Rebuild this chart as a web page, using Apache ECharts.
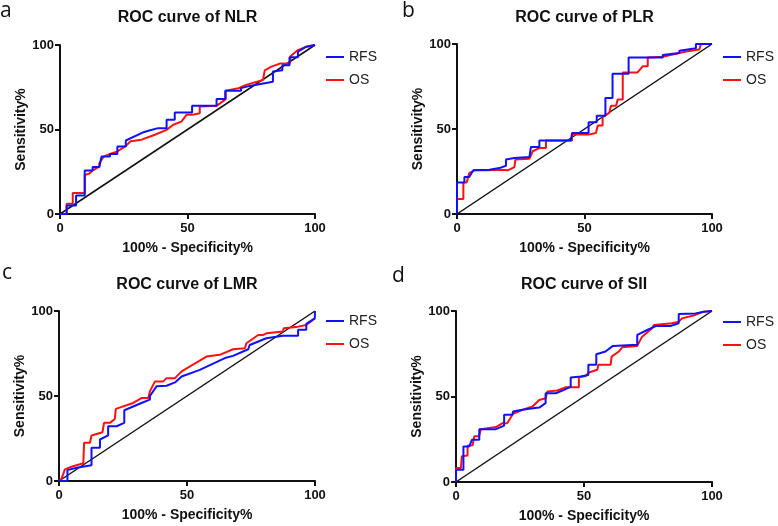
<!DOCTYPE html>
<html>
<head>
<meta charset="utf-8">
<script src="https://cdn.jsdelivr.net/npm/echarts@6/dist/echarts.min.js"></script>
<style>html,body{margin:0;padding:0;background:#fff;}#c{width:778px;height:526px;}</style>
</head>
<body>
<div id="c"></div>
<script>
// ---- data ----
const panelLetters = ['a', 'b', 'c', 'd'];
const panelTitles = ['ROC curve of NLR', 'ROC curve of PLR', 'ROC curve of LMR', 'ROC curve of SII'];
const seriesNames = ['RFS', 'OS'];
const xTickValues = [0, 50, 100];
const yTickValues = [0, 50, 100];
const reference = [[0, 0], [100, 100]];

const rfsNLR = [[0,0],[2.6,0],[2.6,5],[6.3,5],[6.3,11],[9.7,11],[9.7,25.8],[12.8,25.8],[12.8,27.8],[15.4,27.8],[16.3,34],[19.6,34],[19.6,35.5],[22.5,35.5],[22.5,40],[25.8,40],[25.8,43.5],[32.4,48.2],[35,49.4],[38.5,50.8],[41.8,50.8],[41.8,55.7],[45,55.7],[45,60],[51.8,60],[51.8,64],[61.4,64],[61.4,68],[64.8,68],[64.8,73],[71,73],[71,74.5],[74.4,75.8],[83.5,78.3],[83.5,84.3],[87.2,85],[87.2,88],[90,88],[90,92.7],[93.3,92.7],[93.3,96],[96.6,99],[100,100]];
const osNLR = [[0,0],[2.6,0],[2.6,6],[5,6],[5,12.4],[9.7,12.4],[9.7,23],[11.5,24],[13,26],[15.4,28],[15.4,30],[17.2,34],[19.6,35.6],[22.5,37],[25.5,40],[27.7,43],[32,44],[37.2,46.9],[41.8,49.8],[44.4,52.8],[47.6,54.7],[49.6,58.7],[52,58.7],[54.8,59.6],[54.8,63.6],[61.4,64],[65,68],[65,73],[70,74.4],[73,76.4],[79.6,79.3],[80.3,85],[82.9,87.2],[86.2,89],[90,89],[90.5,93.5],[93.3,97],[96.6,99],[100,100]];

const rfsPLR = [[0,0],[0,18.6],[2.9,18.6],[2.9,21.8],[4.8,21.8],[6.4,25.7],[12.7,26],[16.6,27],[19.2,28.4],[19.2,32],[22.5,33],[28.4,33.5],[29,39.4],[32.3,39.4],[32.3,43.3],[44.7,43.3],[45.1,47.6],[51.6,47.6],[51.6,53.9],[54.8,53.9],[54.8,57.8],[58.2,57.8],[58.2,68.2],[61,68.2],[61,82.5],[67.3,82.5],[67.3,92],[80.7,92],[80.7,93.5],[87.2,94.7],[87.2,96],[93.7,97.5],[93.7,100],[100,100]];
const osPLR = [[0,0],[0,8.8],[2.5,8.8],[2.5,18.6],[3.8,18.6],[4.8,24],[6.8,25.7],[12.7,25.7],[16.6,26],[19.9,25.7],[22.5,27.6],[22.9,32],[28.4,32.5],[29.7,36.9],[32.3,38.8],[34.9,38.8],[34.9,43.3],[45.1,43.3],[45.1,46.7],[51.6,46.7],[54.5,47.6],[55.2,52],[57.1,52],[57.1,57],[59.7,59.4],[60.4,63.7],[62.4,63.7],[63,67.3],[65,67.3],[65,83.3],[70.8,83.3],[72.8,86.9],[74.8,86.9],[74.8,92],[80.7,92.5],[87.2,94.7],[90.5,95.7],[95,96.7],[95.7,100],[100,100]];

const rfsLMR = [[0,0],[3.3,0],[3.3,6.4],[6.9,7.8],[12.7,9.2],[12.7,19.5],[16,19.5],[16,24.4],[19.2,26.8],[19.2,32.2],[22.5,32.2],[25.5,34.2],[25.5,41.6],[32.2,45.9],[35.5,47.9],[35.5,50],[38.1,55.7],[42,56],[45.3,58],[47.9,61.5],[55,65.4],[64.8,72.3],[68,73.6],[73.9,77.5],[74.5,80],[81,84],[87.5,85.4],[93.4,85.4],[93.4,88.9],[96.6,88.9],[96.6,92.4],[99.9,95.7],[100,100]];
const osLMR = [[0,0],[1,1.4],[2.3,6.8],[4.9,8.4],[9.5,10.4],[9.8,22.5],[12.1,22.5],[12.7,26.8],[17,28.7],[17.6,34.2],[19.9,34.2],[21.8,36.5],[22.2,42.4],[29,45.9],[32.2,48.8],[34.9,48.8],[35.5,52.7],[37.5,58.6],[40.7,58.6],[42,60.5],[45.3,60.5],[47.9,64.5],[57.6,73.2],[62.8,74.2],[68,77.5],[72.6,78.1],[73.2,81],[77.8,85.9],[79.8,85.9],[81,86.9],[87.5,87.9],[87.8,89.8],[93.4,90.8],[96.6,91.8],[97,92.8],[100,95.7]];

const rfsSII = [[0,0],[0,7.2],[2.9,7.2],[2.9,20.8],[5.2,20.8],[6.2,24.7],[9.1,24.7],[9.1,30.9],[15.6,30.9],[18.8,33],[18.8,39.3],[22,39.3],[22.3,41.2],[26,42.2],[28.6,42.8],[32.5,43.5],[35,46.1],[35,51.9],[39,51.9],[42.2,53.9],[44.8,55.8],[44.8,61.1],[48.7,61.7],[51.7,62.6],[51.7,68.5],[54.8,68.5],[54.8,74.7],[58.4,76.3],[61.3,79.6],[70.8,80.2],[70.8,86],[74.7,88.9],[78,91.2],[83.8,91.2],[87,92.8],[87,98.2],[93.5,98.6],[96.8,99.6],[100,100]];
const osSII = [[0,0],[0,8.2],[1.9,8.2],[2.3,15],[4.5,15.5],[4.5,21.2],[6.5,21.5],[7.1,26.7],[9,26.7],[9.7,30.9],[15.6,32.1],[18.2,34.4],[20,34.4],[22.3,39.9],[25.3,41.8],[29.9,44.2],[32.5,48],[35,49],[35.7,52.9],[39.6,53.5],[42.9,55.4],[48,55.4],[48,61.3],[50.6,62],[51.9,64],[55.2,65.6],[55.6,68.5],[60.4,68.5],[60.8,73.3],[63.6,76.3],[64.9,78.8],[70.8,79.6],[72.7,85],[76.6,89.9],[77.3,91.8],[84.4,92.8],[87,93.8],[88.3,95.7],[93.5,97.7],[96.8,99.6],[100,100]];

const rfsData = [rfsNLR, rfsPLR, rfsLMR, rfsSII];
const osData = [osNLR, osPLR, osLMR, osSII];

// ---- layout (not data) ----
const grids = [
  {left: 60, top: 45, width: 255, height: 169},
  {left: 457, top: 44, width: 255, height: 170},
  {left: 59, top: 311, width: 256, height: 170},
  {left: 456, top: 311, width: 256, height: 171}
];
const letterPos = [[0, 22], [402, 22], [2, 284], [392, 287]];
const titleTop = [10, 10, 277, 277];
const legendTop = [45, 45, 309, 310];

const FONT = 'Liberation Sans, Arial, sans-serif';
const BLUE = '#1010ff';
const RED = '#ff1010';

const chart = echarts.init(document.getElementById('c'), null, {renderer: 'canvas'});

const option = {
  animation: false,
  backgroundColor: '#fff',
  textStyle: {fontFamily: FONT},
  grid: [], xAxis: [], yAxis: [], legend: [], series: [], graphic: []
};

grids.forEach((g, i) => {
  option.grid.push({left: g.left, top: g.top, width: g.width, height: g.height, containLabel: false});
  const axisCommon = {
    type: 'value', min: 0, max: 100, interval: 50, gridIndex: i,
    axisLine: {show: true, onZero: false, lineStyle: {color: '#111', width: 2}},
    axisTick: {show: true, length: 5, lineStyle: {color: '#111', width: 2}},
    splitLine: {show: false},
    nameLocation: 'middle',
    nameTextStyle: {fontFamily: FONT, fontWeight: 'bold', fontSize: 14, color: '#111'}
  };
  option.xAxis.push(Object.assign({}, axisCommon, {
    name: '100% - Specificity%', nameGap: 27,
    axisLabel: {fontFamily: FONT, fontWeight: 'bold', fontSize: 13, color: '#111', margin: 8,
      customValues: xTickValues},
    axisTick: Object.assign({}, axisCommon.axisTick, {customValues: xTickValues})
  }));
  option.yAxis.push(Object.assign({}, axisCommon, {
    name: 'Sensitivity%', nameGap: 30,
    axisLabel: {fontFamily: FONT, fontWeight: 'bold', fontSize: 13, color: '#111', margin: 6,
      customValues: yTickValues},
    axisTick: Object.assign({}, axisCommon.axisTick, {customValues: yTickValues})
  }));
  option.legend.push({
    orient: 'vertical', left: g.left + g.width + 5, top: legendTop[i],
    data: seriesNames.map(n => n + '\u200b'.repeat(i)),
    formatter: name => name.replace(/\u200b/g, ''),
    itemWidth: 18, itemHeight: 14, itemGap: 9,
    itemStyle: {color: 'rgba(0,0,0,0)', borderWidth: 0, opacity: 0},
    textStyle: {fontFamily: FONT, fontSize: 14, color: '#222'}
  });
  option.series.push({
    type: 'line', xAxisIndex: i, yAxisIndex: i, data: reference,
    symbol: 'none', silent: true, lineStyle: {color: '#111', width: 1.5}, z: 1
  });
  option.series.push({
    name: seriesNames[0] + '\u200b'.repeat(i), type: 'line', xAxisIndex: i, yAxisIndex: i,
    data: rfsData[i], symbol: 'none', color: BLUE,
    lineStyle: {color: BLUE, width: 2}, z: 3
  });
  option.series.push({
    name: seriesNames[1] + '\u200b'.repeat(i), type: 'line', xAxisIndex: i, yAxisIndex: i,
    data: osData[i], symbol: 'none', color: RED,
    lineStyle: {color: RED, width: 2}, z: 2
  });
  option.graphic.push({
    type: 'text', x: g.left + g.width / 2, y: titleTop[i],
    style: {text: panelTitles[i], fontFamily: FONT, fontWeight: 'bold', fontSize: 16, fill: '#111', align: 'center', verticalAlign: 'top'}
  });
  option.graphic.push({
    type: 'text', x: letterPos[i][0], y: letterPos[i][1],
    style: {text: panelLetters[i], fontFamily: 'Open Sans, sans-serif', fontSize: 21, fill: '#111', align: 'left', verticalAlign: 'bottom'}
  });
});

chart.setOption(option);
</script>
</body>
</html>
